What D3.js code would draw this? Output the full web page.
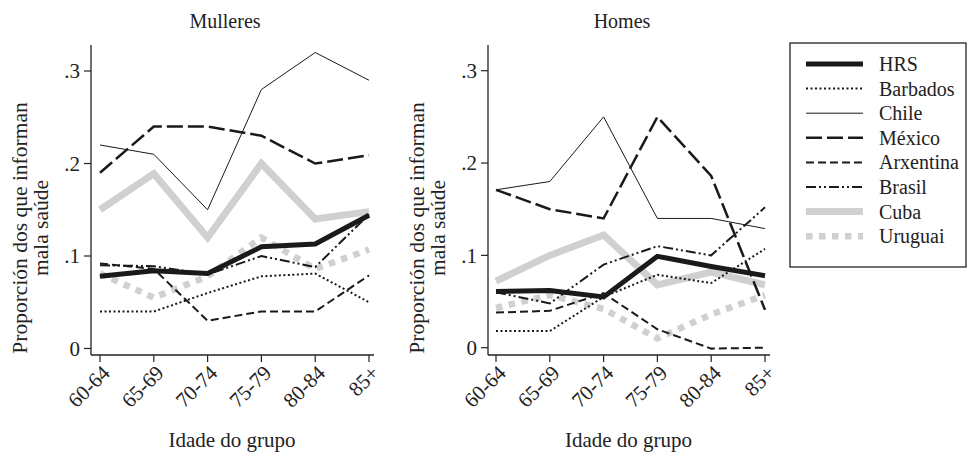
<!DOCTYPE html>
<html>
<head>
<meta charset="utf-8">
<script src="https://cdn.jsdelivr.net/npm/d3@7"></script>
<style>
  body { margin: 0; background: #fff; }
  svg { display: block; }
  text { font-family: "Liberation Serif", "Times New Roman", serif; fill: #222; }
</style>
</head>
<body>
<svg id="chart" width="968" height="454"></svg>
<script>
const ages = ["60-64", "65-69", "70-74", "75-79", "80-84", "85+"];
const yTicks = [0, 0.1, 0.2, 0.3];
const yTickLabels = ["0", ".1", ".2", ".3"];
const seriesNames = ["HRS", "Barbados", "Chile", "México", "Arxentina", "Brasil", "Cuba", "Uruguai"];

// Mulleres
const mHRS       = [0.078, 0.084, 0.081, 0.110, 0.113, 0.144];
const mBarbados  = [0.040, 0.040, 0.060, 0.078, 0.081, 0.050];
const mChile     = [0.220, 0.210, 0.150, 0.280, 0.320, 0.290];
const mMexico    = [0.190, 0.240, 0.240, 0.230, 0.200, 0.209];
const mArxentina = [0.092, 0.086, 0.030, 0.040, 0.040, 0.079];
const mBrasil    = [0.090, 0.089, 0.080, 0.100, 0.088, 0.145];
const mCuba      = [0.150, 0.189, 0.120, 0.200, 0.140, 0.148];
const mUruguai   = [0.081, 0.055, 0.078, 0.120, 0.086, 0.107];

// Homes
const hHRS       = [0.061, 0.062, 0.055, 0.099, 0.088, 0.078];
const hBarbados  = [0.018, 0.018, 0.055, 0.079, 0.070, 0.107];
const hChile     = [0.171, 0.180, 0.250, 0.140, 0.140, 0.129];
const hMexico    = [0.171, 0.150, 0.140, 0.250, 0.186, 0.041];
const hArxentina = [0.038, 0.040, 0.059, 0.020, -0.001, 0.000];
const hBrasil    = [0.060, 0.048, 0.090, 0.110, 0.100, 0.152];
const hCuba      = [0.072, 0.100, 0.122, 0.068, 0.082, 0.068];
const hUruguai   = [0.043, 0.057, 0.042, 0.010, 0.036, 0.057];

const mulleres = [mHRS, mBarbados, mChile, mMexico, mArxentina, mBrasil, mCuba, mUruguai];
const homes    = [hHRS, hBarbados, hChile, hMexico, hArxentina, hBrasil, hCuba, hUruguai];

const styles = {
  "HRS":       { color: "#1a1a1a", width: 5,   dash: null },
  "Barbados":  { color: "#1a1a1a", width: 2,   dash: "2,2.5" },
  "Chile":     { color: "#1a1a1a", width: 1,   dash: null },
  "México":    { color: "#1a1a1a", width: 2.5, dash: "16,5" },
  "Arxentina": { color: "#1a1a1a", width: 2,   dash: "8,4" },
  "Brasil":    { color: "#1a1a1a", width: 2,   dash: "10,3,2,3,2,3" },
  "Cuba":      { color: "#d0d0d0", width: 7,   dash: null },
  "Uruguai":   { color: "#d0d0d0", width: 6.5, dash: "6.5,6.5" }
};
const drawOrder = ["Cuba", "Uruguai", "Barbados", "Chile", "México", "Arxentina", "Brasil", "HRS"];

const svg = d3.select("#chart");
const FS = 20;
const FS_AX = 21;

function panel(opts) {
  const { title, data, axisX, firstX, lastX, y0, y3, top, bottom, titleX, ytitleX } = opts;
  const g = svg.append("g");
  const x = d3.scalePoint().domain(ages).range([firstX, lastX]);
  const y = d3.scaleLinear().domain([0, 0.3]).range([y0, y3]);

  g.append("line").attr("x1", axisX).attr("x2", axisX).attr("y1", top).attr("y2", bottom)
    .attr("stroke", "#222").attr("stroke-width", 1.3);
  g.append("line").attr("x1", axisX).attr("x2", lastX + 5).attr("y1", bottom).attr("y2", bottom)
    .attr("stroke", "#222").attr("stroke-width", 1.3);

  yTicks.forEach((v, i) => {
    g.append("line").attr("x1", axisX - 7).attr("x2", axisX).attr("y1", y(v)).attr("y2", y(v))
      .attr("stroke", "#222").attr("stroke-width", 1.2);
    g.append("text").attr("x", axisX - 11).attr("y", y(v)).attr("dy", "0.35em")
      .attr("text-anchor", "end").attr("font-size", FS_AX).text(yTickLabels[i]);
  });

  ages.forEach(a => {
    g.append("line").attr("x1", x(a)).attr("x2", x(a)).attr("y1", bottom).attr("y2", bottom + 7)
      .attr("stroke", "#222").attr("stroke-width", 1.2);
    g.append("text")
      .attr("transform", `translate(${x(a) + 6},${bottom + 14}) rotate(-45)`)
      .attr("text-anchor", "end").attr("font-size", FS_AX).attr("dy", "0.35em").text(a);
  });

  g.append("text").attr("x", titleX).attr("y", 28).attr("text-anchor", "middle")
    .attr("font-size", FS).text(title);
  g.append("text").attr("x", (axisX + lastX) / 2 + 2).attr("y", 447).attr("text-anchor", "middle")
    .attr("font-size", FS_AX).text("Idade do grupo");
  const yt = g.append("text").attr("transform", `translate(${ytitleX},228) rotate(-90)`)
    .attr("text-anchor", "middle").attr("font-size", 21.5);
  yt.append("tspan").attr("x", 0).attr("dy", 0).text("Proporción dos que informan");
  yt.append("tspan").attr("x", 0).attr("dy", 21).text("mala saúde");

  const line = d3.line().x((d, i) => x(ages[i])).y(d => y(d));
  drawOrder.forEach(name => {
    const idx = seriesNames.indexOf(name);
    const s = styles[name];
    g.append("path").datum(data[idx]).attr("d", line)
      .attr("fill", "none").attr("stroke", s.color).attr("stroke-width", s.width)
      .attr("stroke-dasharray", s.dash).attr("stroke-linejoin", "miter")
      .attr("stroke-linecap", "butt");
  });
}

panel({ title: "Mulleres", data: mulleres, axisX: 91, firstX: 100, lastX: 369,
  y0: 348.5, y3: 71, top: 45, bottom: 355, titleX: 225, ytitleX: 27 });
panel({ title: "Homes", data: homes, axisX: 488, firstX: 496, lastX: 765,
  y0: 347.7, y3: 70.7, top: 45, bottom: 355, titleX: 622, ytitleX: 424 });

const lg = svg.append("g");
lg.append("rect").attr("x", 790).attr("y", 43).attr("width", 176).attr("height", 224)
  .attr("fill", "#fff").attr("stroke", "#222").attr("stroke-width", 1.3);
seriesNames.forEach((name, i) => {
  const cy = 64 + i * 24.6;
  const s = styles[name];
  lg.append("line").attr("x1", 806).attr("x2", 863).attr("y1", cy).attr("y2", cy)
    .attr("stroke", s.color).attr("stroke-width", s.width)
    .attr("stroke-dasharray", s.dash);
  lg.append("text").attr("x", 879).attr("y", cy).attr("dy", "0.35em")
    .attr("font-size", FS).text(name);
});
</script>
</body>
</html>
